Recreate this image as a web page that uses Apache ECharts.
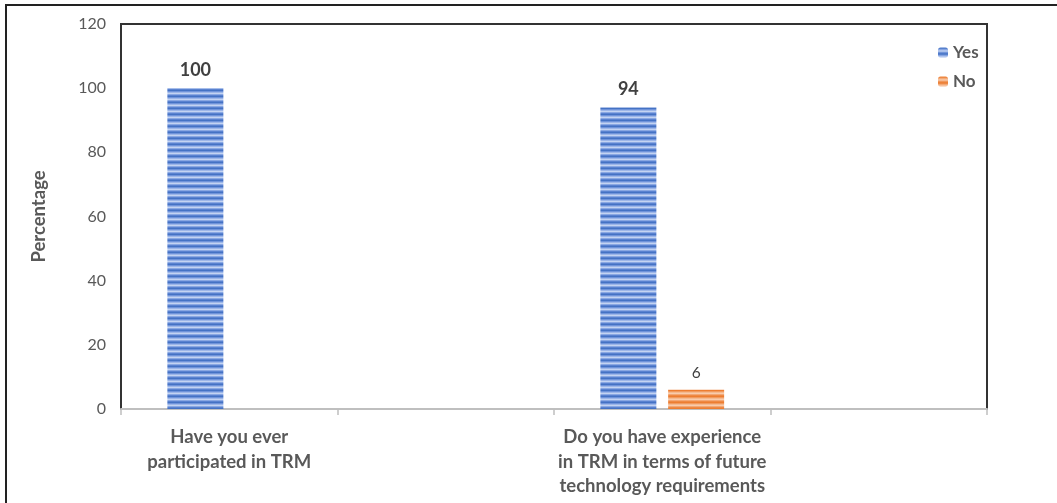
<!DOCTYPE html>
<html>
<head>
<meta charset="utf-8">
<script src="https://cdn.jsdelivr.net/npm/echarts@6/dist/echarts.min.js"></script>
<style>
html,body{margin:0;padding:0;background:#fff;}
#chart{width:1057px;height:503px;}
</style>
</head>
<body>
<div id="chart"></div>
<script>
const categories = [
  "Have you ever\nparticipated in TRM",
  "",
  "Do you have experience\nin TRM in terms of future\ntechnology requirements",
  ""
];
const seriesNames = ["Yes", "No"];
const yesValues = [100, null, 94, null];
const noValues = [null, null, 6, null];
const yTicks = { min: 0, max: 120, interval: 20 };

function stripePattern(colors) {
  const c = document.createElement('canvas');
  c.width = 4; c.height = colors.length;
  const ctx = c.getContext('2d');
  colors.forEach((col, i) => { ctx.fillStyle = col; ctx.fillRect(0, i, 4, 1); });
  return { image: c, repeat: 'repeat' };
}
const bluePat = stripePattern(['#4472C4','#6F93DA','#9DB6E8','#C3D3F2','#8AA8E3','#5A82D0']);
const orangePat = stripePattern(['#ED7D31','#F19A5E','#F5B98F','#F8CCAD','#F3A774','#EE8944']);

const chart = echarts.init(document.getElementById('chart'));
chart.setOption({
  animation: false,
  textStyle: { fontFamily: 'Lato, "Open Sans", sans-serif' },
  graphic: [{
    type: 'rect',
    shape: { x: 6, y: 5, width: 1100, height: 600 },
    style: { fill: 'none', stroke: '#222', lineWidth: 2 },
    silent: true
  }],
  grid: {
    left: 121, top: 24, right: 70, bottom: 94,
    show: true, borderColor: '#333', borderWidth: 2, backgroundColor: 'transparent'
  },
  legend: {
    orient: 'vertical',
    left: 933, top: 39,
    itemWidth: 10, itemHeight: 10, itemGap: 12, itemStyle: {},
    textStyle: { fontWeight: 'bold', fontSize: 17, color: '#595959', fontFamily: 'Lato, sans-serif' },
    data: seriesNames
  },
  xAxis: {
    type: 'category',
    data: categories,
    axisLine: { lineStyle: { color: '#BFBFBF', width: 2 } },
    axisTick: { show: true, length: 6, lineStyle: { color: '#BFBFBF', width: 1.5 } },
    axisLabel: {
      interval: 0, margin: 16, fontSize: 18.5, fontWeight: 'bold', color: '#595959',
      lineHeight: 24.5, fontFamily: 'Lato, sans-serif'
    }
  },
  yAxis: {
    type: 'value',
    min: yTicks.min, max: yTicks.max, interval: yTicks.interval,
    name: 'Percentage', nameLocation: 'middle', nameGap: 72, nameRotate: 90,
    nameTextStyle: { fontSize: 18.5, fontWeight: 'bold', color: '#595959', fontFamily: 'Lato, sans-serif' },
    axisLine: { show: false },
    axisTick: { show: false },
    splitLine: { show: false },
    axisLabel: { fontSize: 16, color: '#595959', margin: 15, fontFamily: 'Lato, sans-serif' }
  },
  series: [
    {
      name: seriesNames[0], type: 'bar', data: yesValues,
      barWidth: 56, barGap: '21%',
      itemStyle: { color: bluePat },
      label: { show: true, position: 'top', distance: 9, fontSize: 18, fontWeight: 'bold', color: '#404040', fontFamily: 'Lato, sans-serif' }
    },
    {
      name: seriesNames[1], type: 'bar', data: noValues,
      barWidth: 56, barGap: '21%',
      itemStyle: { color: orangePat },
      label: { show: true, position: 'top', distance: 9, fontSize: 15.5, color: '#404040', fontFamily: 'Lato, sans-serif' }
    }
  ]
});
</script>
</body>
</html>
